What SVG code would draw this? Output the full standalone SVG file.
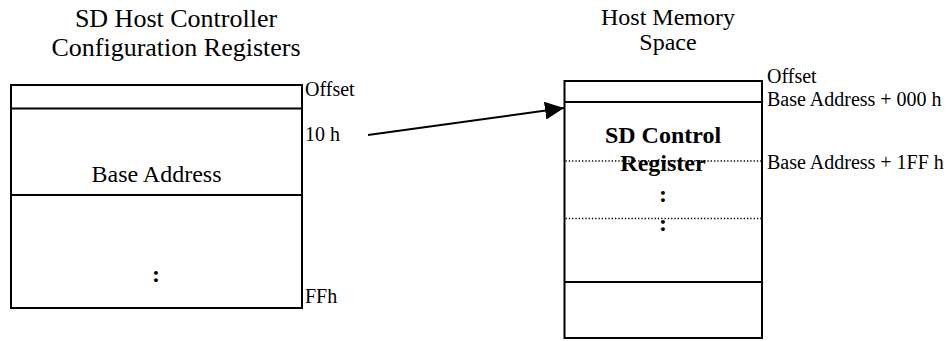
<svg xmlns="http://www.w3.org/2000/svg" width="952" height="341" viewBox="0 0 952 341">
<defs>
<style>
text{font-family:"Liberation Serif","Times New Roman",serif;fill:#000}
.title{font-size:24px;text-anchor:middle}
.title-l{font-size:26px;text-anchor:middle}
.lbl{font-size:20px}
.body{font-size:24px;text-anchor:middle}
.bold{font-size:24px;font-weight:bold;text-anchor:middle}
.box{fill:#fff;stroke:#000;stroke-width:2}
.div{stroke:#000;stroke-width:2;fill:none}
.dot{stroke:#000;stroke-width:1.3;stroke-dasharray:1.3 2;fill:none}
</style>
<marker id="ah" markerWidth="20" markerHeight="18" refX="19" refY="9" orient="auto" markerUnits="userSpaceOnUse">
<path d="M0,0 L19,9 L0,18 Z" fill="#000"/>
</marker>
</defs>
<rect width="952" height="341" fill="#fff"/>

<g id="left-registers">
<text class="title-l" x="176" y="27">SD Host Controller</text>
<text class="title-l" x="176" y="56">Configuration Registers</text>
<rect class="box" x="11" y="85" width="291" height="223"/>
<line class="div" x1="11" y1="108.5" x2="302" y2="108.5"/>
<line class="div" x1="11" y1="195" x2="302" y2="195"/>
<text class="body" x="156.5" y="182">Base Address</text>
<text class="bold" x="156" y="282">:</text>
<text class="lbl" x="305" y="96">Offset</text>
<text class="lbl" x="305" y="141">10 h</text>
<text class="lbl" x="305" y="303">FFh</text>
</g>

<g id="host-memory">
<text class="title" x="668" y="25">Host Memory</text>
<text class="title" x="668" y="50">Space</text>
<rect class="box" x="564.5" y="81" width="197.5" height="257"/>
<line class="div" x1="564.5" y1="102" x2="762" y2="102"/>
<line class="div" x1="564.5" y1="282" x2="762" y2="282"/>
<line class="dot" x1="565.5" y1="161" x2="761" y2="161"/>
<line class="dot" x1="565.5" y1="218.5" x2="761" y2="218.5"/>
<text class="bold" x="663" y="143">SD Control</text>
<text class="bold" x="663" y="171">Register</text>
<text class="bold" x="663" y="202">:</text>
<text class="bold" x="663" y="230.5">:</text>
<text class="lbl" x="767" y="83">Offset</text>
<text class="lbl" x="767" y="106">Base Address + 000 h</text>
<text class="lbl" x="767" y="169">Base Address + 1FF h</text>
</g>

<g id="connectors">
<line x1="368" y1="135" x2="564" y2="108" stroke="#000" stroke-width="2" marker-end="url(#ah)"/>
</g>
</svg>
